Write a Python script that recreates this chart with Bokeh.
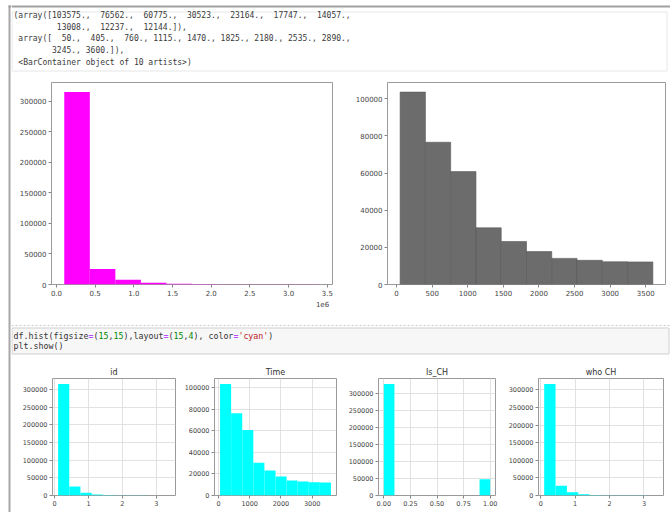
import numpy as np
from bokeh.plotting import figure
from bokeh.models import Range1d, FixedTicker, PrintfTickFormatter, BasicTickFormatter
from bokeh.layouts import column, row
from bokeh.core.properties import value
from bokeh.embed import file_html
from bokeh.resources import INLINE

# ---------------- data ----------------
id_edges = [101000, 431110, 761220, 1091330, 1421440, 1751550, 2081660, 2411770, 2741880, 3071990, 3402100]
id_counts = [315200, 25200, 7900, 2800, 1100, 700, 550, 450, 350, 300]

time_edges = [50, 405, 760, 1115, 1470, 1825, 2180, 2535, 2890, 3245, 3600]
time_counts = [103575, 76562, 60775, 30523, 23164, 17747, 14057, 13008, 12237, 12144]

is_ch_edges = [0.0, 0.1, 0.2, 0.3, 0.4, 0.5, 0.6, 0.7, 0.8, 0.9, 1.0]
is_ch_counts = [327000, 0, 0, 0, 0, 0, 0, 0, 0, 47600]

who_ch_edges = [101000, 431110, 761220, 1091330, 1421440, 1751550, 2081660, 2411770, 2741880, 3071990, 3402100]
who_ch_counts = [316800, 28000, 9500, 3400, 1500, 900, 700, 500, 400, 300]

id_xticks = [0.0, 0.5, 1.0, 1.5, 2.0, 2.5, 3.0, 3.5]
id_yticks = [0, 50000, 100000, 150000, 200000, 250000, 300000]
time_xticks = [0, 500, 1000, 1500, 2000, 2500, 3000, 3500]
time_yticks = [0, 20000, 40000, 60000, 80000, 100000]
small_id_xticks = [0, 1, 2, 3]
small_time_xticks = [0, 1000, 2000, 3000]
is_ch_xticks = [0.0, 0.25, 0.5, 0.75, 1.0]

titles = ["id", "Time", "Is_CH", "who CH"]
code_line2 = "plt.show()"
offset_text = "1e6"

FONT = "DejaVu Sans"
MONO = "DejaVu Sans Mono"
NB = "\u00a0"


def canvas(w, h):
    p = figure(width=w, height=h, x_range=Range1d(0, w), y_range=Range1d(h, 0),
               output_backend="svg", toolbar_location=None,
               x_axis_location=None, y_axis_location=None, min_border=0)
    p.outline_line_color = None
    p.grid.grid_line_color = None
    p.background_fill_color = "white"
    p.border_fill_color = "white"
    return p


def hist(w, h, left, right, top, bottom, edges, counts, scale, color, xticks, xfmt,
         yticks, title=None, grid=False, fs="7px", line_color=None):
    e = np.array(edges, dtype=float) / scale
    span = e[-1] - e[0]
    p = figure(width=w, height=h,
               x_range=Range1d(e[0] - 0.05 * span, e[-1] + 0.05 * span),
               y_range=Range1d(0, max(counts) * 1.05),
               output_backend="svg", toolbar_location=None,
               min_border_left=left, min_border_right=right,
               min_border_top=top, min_border_bottom=bottom)
    if line_color is None:
        p.quad(left=e[:-1], right=e[1:], bottom=0, top=counts,
               fill_color=color, line_color=None)
    else:
        p.quad(left=e[:-1], right=e[1:], bottom=0, top=counts,
               fill_color=color, line_color=line_color, line_width=0.6)
    for ax in (p.xaxis[0], p.yaxis[0]):
        ax.axis_line_color = None
        ax.major_tick_in = 0
        ax.major_tick_out = 3
        ax.minor_tick_line_color = None
        ax.major_tick_line_color = "#888888"
        ax.major_label_text_font = FONT
        ax.major_label_text_font_size = fs
        ax.major_label_text_color = "#444444"
        ax.major_label_standoff = 2
    xt = FixedTicker(ticks=xticks)
    yt = FixedTicker(ticks=yticks)
    p.xaxis.ticker = xt
    p.yaxis.ticker = yt
    p.xaxis.formatter = PrintfTickFormatter(format=xfmt)
    p.yaxis.formatter = BasicTickFormatter(use_scientific=False)
    if grid:
        p.xgrid.ticker = xt
        p.ygrid.ticker = yt
        p.grid.grid_line_color = "#dadada"
        p.grid.grid_line_width = 0.8
    else:
        p.grid.grid_line_color = None
    p.outline_line_color = "#9a9a9a"
    p.outline_line_width = 1
    if title:
        p.title.text = title
        p.title.align = "center"
        p.title.text_font = FONT
        p.title.text_font_size = "8px"
        p.title.text_font_style = "normal"
        p.title.text_color = "#333333"
        p.title.standoff = 3
    return p


# ---------------- left notebook bar ----------------
bar = canvas(11, 512)
bar.quad(left=[8], right=[10], top=[5], bottom=[512], fill_color="#a8a8a8", line_color=None)
bar.quad(left=[8], right=[11], top=[5], bottom=[7], fill_color="#a0a0a0", line_color=None)

# ---------------- output text section ----------------
W = 659
secA = canvas(W, 80)
secA.quad(left=[0], right=[W], top=[5], bottom=[7], fill_color="#a0a0a0", line_color=None)
secA.quad(left=[0.5], right=[655.5], top=[11.5], bottom=[70.5], fill_color=None,
          line_color="#e6e6e6", line_width=1)

cstr = [f"{v:.0f}." for v in time_counts]
cw = max(len(s) for s in cstr)
cstr = [s.rjust(cw) for s in cstr]
estr = [f"{v:.0f}." for v in time_edges]
ew = max(len(s) for s in estr)
estr = [s.rjust(ew) for s in estr]
out_lines = [
    "(array([" + ", ".join(cstr[:7]) + ",",
    " " * 8 + ", ".join(cstr[7:]) + "]),",
    " array([" + ", ".join(estr[:9]) + ",",
    " " * 8 + ", ".join(estr[9:]) + "]),",
    f" <BarContainer object of {len(time_counts)} artists>)",
]
out_lines = [s.replace(" ", NB) for s in out_lines]
secA.text(x=[2] * 5, y=[15 + i * 11.7 for i in range(5)], text=out_lines,
          text_font=value(MONO), text_font_size="8px", text_color="#3a3a3a",
          text_baseline="middle", text_align="left")

# ---------------- top histograms ----------------
mag = hist(341, 218, 40, 20, 2, 14, id_edges, id_counts, 1e6, "#ff00ff",
           id_xticks, "%.1f", id_yticks)
gry = hist(318, 218, 35, 5, 2, 14, time_edges, time_counts, 1, "#6c6c6c",
           time_xticks, "%d", time_yticks, line_color="#595959")

strip = canvas(W, 20)
strip.text(x=[311], y=[5], text=[offset_text], text_font=value(FONT),
           text_font_size="7px", text_color="#444444",
           text_align="center", text_baseline="middle")

# ---------------- code cell section ----------------
secC = canvas(W, 42)
secC.line(x=[0, W], y=[7, 7], line_color="#c8c8c8", line_width=1, line_dash="2 2")
secC.quad(left=[0.5], right=[657.5], top=[9.5], bottom=[35.5], fill_color="#f7f7f7",
          line_color="#cfcfcf", line_width=1)
segments = [("df.hist(figsize", "#333333"), ("=", "#aa22ff"), ("(", "#333333"),
            ("15", "#008800"), (",", "#333333"), ("15", "#008800"),
            ("),layout", "#333333"), ("=", "#aa22ff"), ("(", "#333333"),
            ("15", "#008800"), (",", "#333333"), ("4", "#008800"),
            ("),\u00a0color", "#333333"), ("=", "#aa22ff"), ("'cyan'", "#ba2121"),
            (")", "#333333")]
cfs = 8.3
charw = 0.6021 * cfs
xs, txt, cols = [], [], []
pos = 0
for s, c in segments:
    xs.append(2 + pos * charw)
    txt.append(s)
    cols.append(c)
    pos += len(s)
xs.append(2)
txt.append(code_line2)
cols.append("#333333")
ys = [17] * len(segments) + [27]
secC.text(x=xs, y=ys, text=txt, text_color=cols, text_font=value(MONO),
          text_font_size=f"{cfs}px", text_baseline="middle", text_align="left")

# ---------------- bottom small histograms ----------------
H = 152
f1 = hist(169, H, 41, 5, 18, 17, id_edges, id_counts, 1e6, "#00ffff",
          small_id_xticks, "%d", id_yticks, title=titles[0], grid=True, fs="6.5px")
f2 = hist(165, H, 34, 9, 18, 17, time_edges, time_counts, 1, "#00ffff",
          small_time_xticks, "%d", time_yticks, title=titles[1], grid=True, fs="6.5px")
f3 = hist(160, H, 31, 10, 18, 17, is_ch_edges, is_ch_counts, 1, "#00ffff",
          is_ch_xticks, "%.2f", id_yticks, title=titles[2], grid=True, fs="6.5px")
f4 = hist(165, H, 33, 7, 18, 17, who_ch_edges, who_ch_counts, 1e6, "#00ffff",
          small_id_xticks, "%d", id_yticks, title=titles[3], grid=True, fs="6.5px")

layout = row(bar, column(secA, row(mag, gry), strip, secC, row(f1, f2, f3, f4)))

open("out.html", "w").write(file_html(layout, INLINE))
